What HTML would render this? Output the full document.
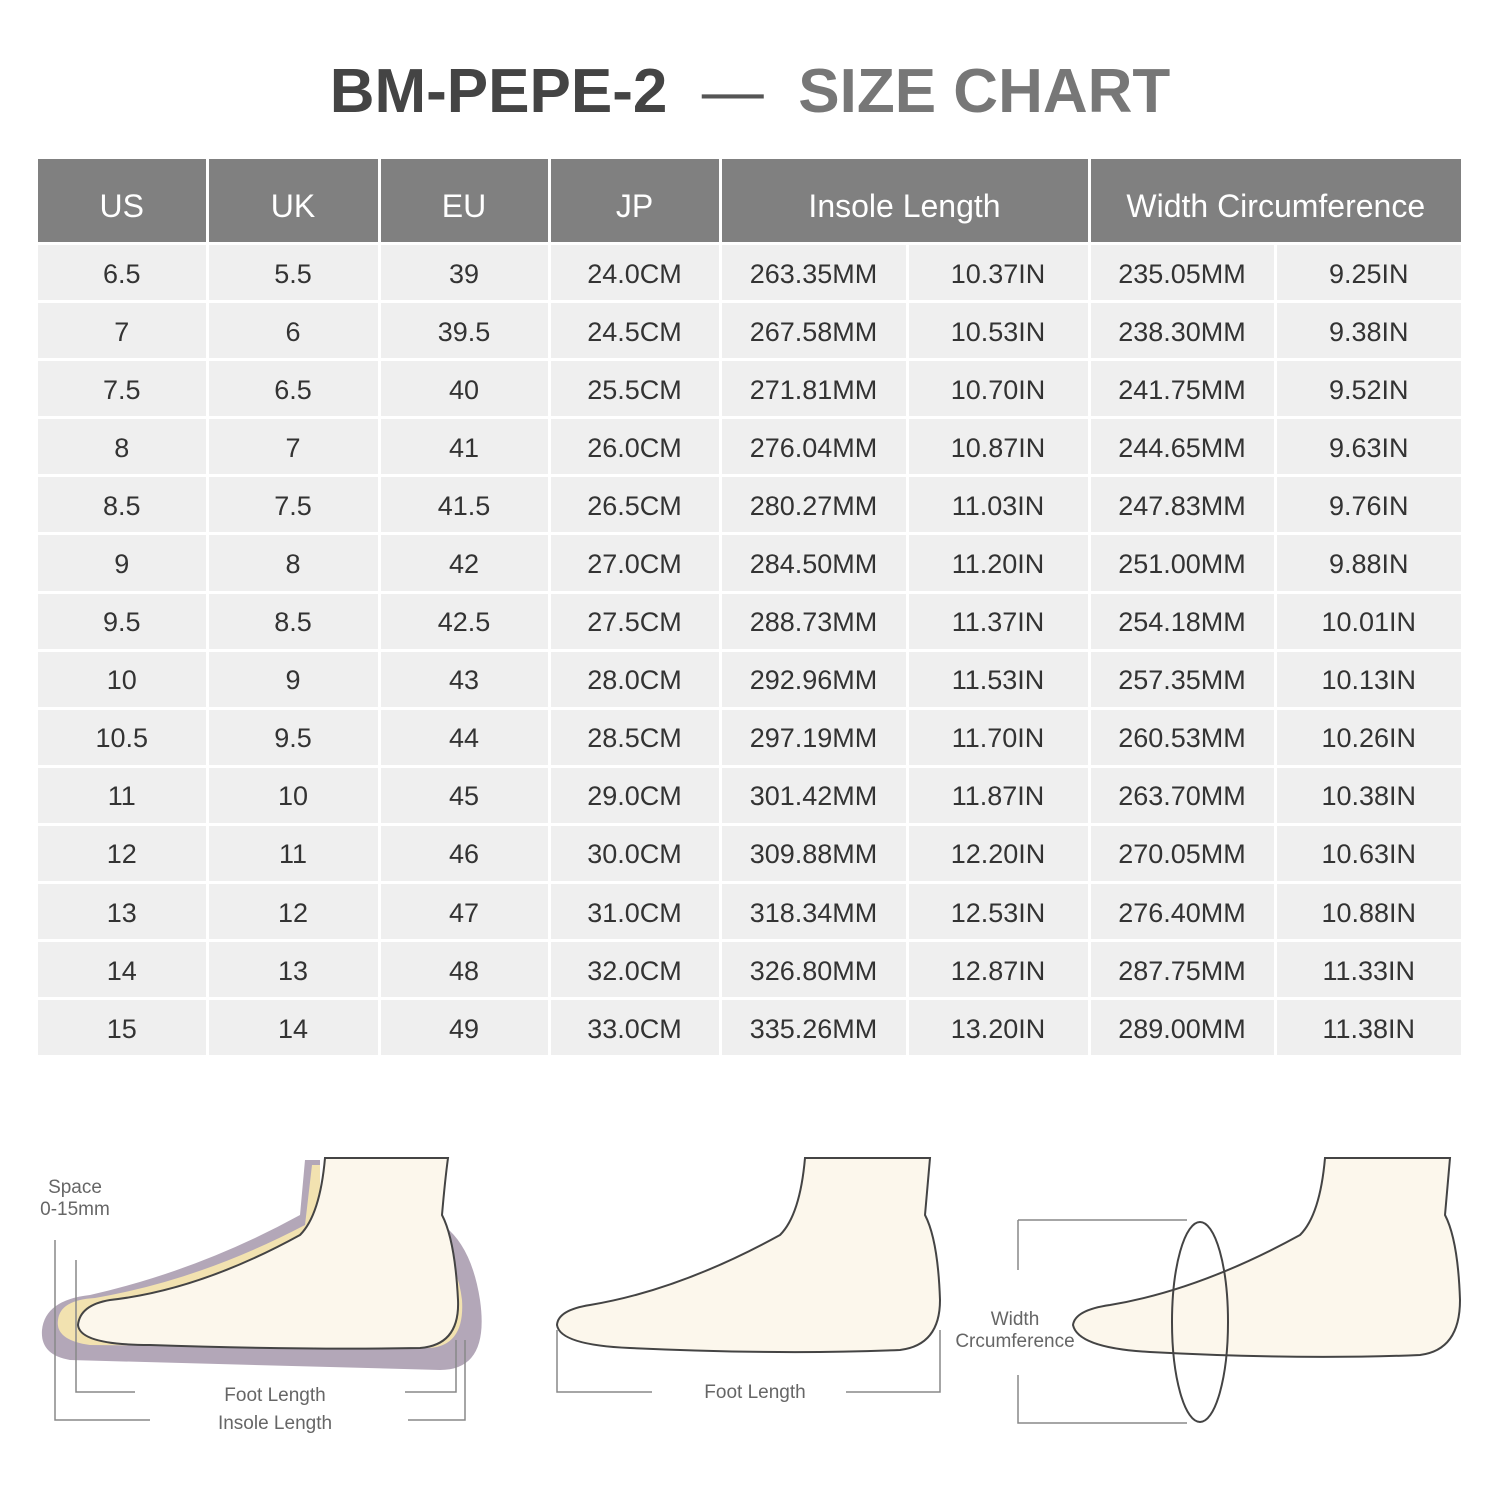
<!DOCTYPE html>
<html><head><style>
body{margin:0;width:1500px;height:1500px;background:#fff;font-family:"Liberation Sans","DejaVu Sans",sans-serif;position:relative;overflow:hidden}
.title{position:absolute;top:56px;left:0;width:1500px;text-align:center;font-size:62px;font-weight:bold;letter-spacing:0px}
table{position:absolute;left:38px;top:159px;border-collapse:collapse;table-layout:fixed;width:1423px}
td,th{border-right:3px solid #fff;border-bottom:3px solid #fff;text-align:center;padding:0}
th{background:#808080;color:#fff;font-weight:normal;font-size:32px;height:71px;padding-top:12px}
td{background:#efefef;color:#333;font-size:27px;height:52.1px;padding-top:3px}
tr td:last-child,tr th:last-child{border-right:none}
.lbl{position:absolute;font-size:19px;color:#666;text-align:center}
</style></head><body>
<div class="title"><span style="color:#444">BM-PEPE-2</span> <span style="color:#555;font-weight:normal">&nbsp;—&nbsp;</span> <span style="color:#777">SIZE CHART</span></div>
<table>
<colgroup><col style="width:169px"><col style="width:172px"><col style="width:170px"><col style="width:171px"><col style="width:187px"><col style="width:182px"><col style="width:186px"><col style="width:186px"></colgroup>
<tr><th>US</th><th>UK</th><th>EU</th><th>JP</th><th colspan="2">Insole Length</th><th colspan="2">Width Circumference</th></tr>
<tr><td>6.5</td><td>5.5</td><td>39</td><td>24.0CM</td><td>263.35MM</td><td>10.37IN</td><td>235.05MM</td><td>9.25IN</td></tr>
<tr><td>7</td><td>6</td><td>39.5</td><td>24.5CM</td><td>267.58MM</td><td>10.53IN</td><td>238.30MM</td><td>9.38IN</td></tr>
<tr><td>7.5</td><td>6.5</td><td>40</td><td>25.5CM</td><td>271.81MM</td><td>10.70IN</td><td>241.75MM</td><td>9.52IN</td></tr>
<tr><td>8</td><td>7</td><td>41</td><td>26.0CM</td><td>276.04MM</td><td>10.87IN</td><td>244.65MM</td><td>9.63IN</td></tr>
<tr><td>8.5</td><td>7.5</td><td>41.5</td><td>26.5CM</td><td>280.27MM</td><td>11.03IN</td><td>247.83MM</td><td>9.76IN</td></tr>
<tr><td>9</td><td>8</td><td>42</td><td>27.0CM</td><td>284.50MM</td><td>11.20IN</td><td>251.00MM</td><td>9.88IN</td></tr>
<tr><td>9.5</td><td>8.5</td><td>42.5</td><td>27.5CM</td><td>288.73MM</td><td>11.37IN</td><td>254.18MM</td><td>10.01IN</td></tr>
<tr><td>10</td><td>9</td><td>43</td><td>28.0CM</td><td>292.96MM</td><td>11.53IN</td><td>257.35MM</td><td>10.13IN</td></tr>
<tr><td>10.5</td><td>9.5</td><td>44</td><td>28.5CM</td><td>297.19MM</td><td>11.70IN</td><td>260.53MM</td><td>10.26IN</td></tr>
<tr><td>11</td><td>10</td><td>45</td><td>29.0CM</td><td>301.42MM</td><td>11.87IN</td><td>263.70MM</td><td>10.38IN</td></tr>
<tr><td>12</td><td>11</td><td>46</td><td>30.0CM</td><td>309.88MM</td><td>12.20IN</td><td>270.05MM</td><td>10.63IN</td></tr>
<tr><td>13</td><td>12</td><td>47</td><td>31.0CM</td><td>318.34MM</td><td>12.53IN</td><td>276.40MM</td><td>10.88IN</td></tr>
<tr><td>14</td><td>13</td><td>48</td><td>32.0CM</td><td>326.80MM</td><td>12.87IN</td><td>287.75MM</td><td>11.33IN</td></tr>
<tr><td>15</td><td>14</td><td>49</td><td>33.0CM</td><td>335.26MM</td><td>13.20IN</td><td>289.00MM</td><td>11.38IN</td></tr>
</table>
<svg style="position:absolute;left:0;top:0" width="1500" height="1500">
<g stroke="#444" stroke-width="2">
<path d="M305 1160 L320 1160 L320 1230 Q460 1170 480 1300 Q490 1370 440 1370 L70 1360 Q40 1355 42 1330 Q45 1300 90 1295 Q200 1270 300 1215 Z" fill="#b3a7b8" stroke="none"/>
<path d="M312 1165 L320 1165 L320 1235 Q450 1200 462 1300 Q465 1345 430 1348 L90 1345 Q55 1340 58 1320 Q60 1300 95 1298 Q200 1280 305 1225 Z" fill="#f2e2b0" stroke="none"/>
<path d="M325 1158 Q320 1215 300 1235 Q200 1290 110 1300 Q80 1305 78 1325 Q80 1345 150 1345 Q300 1350 420 1348 Q460 1345 458 1300 Q455 1240 442 1215 Q445 1180 448 1158 Z" fill="#fcf7ec"/>
<path d="M805 1158 Q800 1215 780 1235 Q680 1290 590 1305 Q558 1310 557 1325 Q560 1345 630 1348 Q780 1355 900 1350 Q940 1345 940 1300 Q938 1240 925 1215 Q928 1180 930 1158 Z" fill="#fcf7ec"/>
<path d="M1325 1158 Q1320 1215 1300 1235 Q1200 1290 1110 1305 Q1075 1310 1073 1325 Q1078 1348 1150 1352 Q1300 1360 1420 1355 Q1460 1350 1460 1300 Q1458 1240 1445 1215 Q1448 1180 1450 1158 Z" fill="#fcf7ec"/>
<ellipse cx="1200" cy="1322" rx="28" ry="100" fill="none"/>
</g>
<g stroke="#888" stroke-width="1.5" fill="none">
<path d="M55 1240 V1420 H150 M408 1420 H465 V1340"/>
<path d="M76 1260 V1392 H135 M405 1392 H456 V1340"/>
<path d="M557 1330 V1392 H652 M846 1392 H940 V1330"/>
<path d="M1018 1220 H1187 M1018 1220 V1270 M1018 1375 V1423 H1187"/>
</g>
</svg>
<div class="lbl" style="left:30px;top:1177px;width:90px;line-height:22px">Space<br>0-15mm</div>
<div class="lbl" style="left:190px;top:1382px;width:170px;line-height:28px">Foot Length<br>Insole Length</div>
<div class="lbl" style="left:670px;top:1382px;width:170px">Foot Length</div>
<div class="lbl" style="left:945px;top:1309px;width:140px;line-height:22px">Width<br>Crcumference</div>
</body></html>
